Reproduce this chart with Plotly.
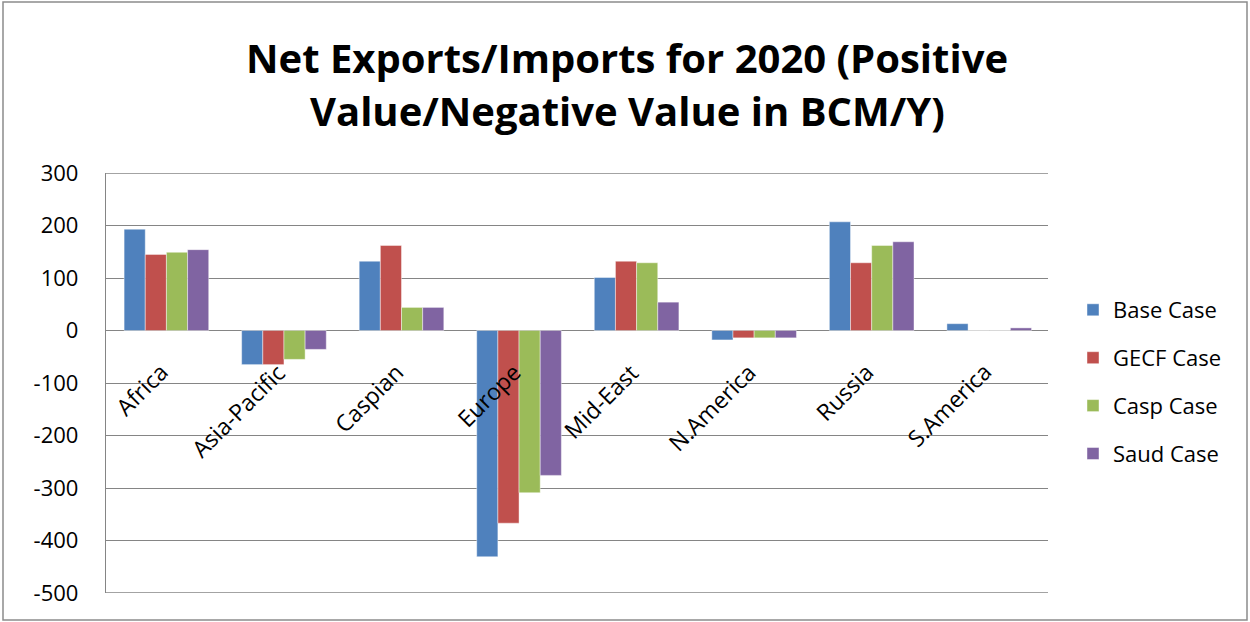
import plotly.graph_objects as go

categories = ["Africa", "Asia-Pacific", "Caspian", "Europe", "Mid-East", "N.America", "Russia", "S.America"]
series_names = ["Base Case", "GECF Case", "Casp Case", "Saud Case"]
base_case = [193, -65, 132, -431, 101, -18, 207, 13]
gecf_case = [145, -65, 162, -367, 132, -14, 129, 0]
casp_case = [149, -55, 44, -309, 129, -14, 162, 0]
saud_case = [154, -36, 44, -276, 54, -14, 169, 5]
colors = ["#4F81BD", "#C0504D", "#9BBB59", "#8064A2"]
y_ticks = [300, 200, 100, 0, -100, -200, -300, -400, -500]
title_lines = ["Net Exports/Imports for 2020 (Positive", "Value/Negative Value in BCM/Y)"]

W, H = 1250, 622
L, R, T, B = 106, 1250 - 1048, 173, 622 - 593
PW, PH = W - L - R, H - T - B
GRID = "#858585"

def px_x(p):
    return (p - L) / PW

def px_y(p):
    return (H - B - p) / PH

fig = go.Figure()
for name, vals, col in zip(series_names, [base_case, gecf_case, casp_case, saud_case], colors):
    fig.add_trace(go.Bar(
        x=categories, y=vals, name=name, legendgroup=name,
        marker=dict(color=col, line=dict(color="rgba(255,255,255,0.55)", width=0.8)),
    ))

annotations = []
for cat in categories:
    annotations.append(dict(
        x=cat, y=0, xref="x", yref="y", text=cat, showarrow=False,
        textangle=-45, xanchor="right", yanchor="top", xshift=11, yshift=-23,
        font=dict(family="Open Sans", size=23, color="#000000"),
    ))
for line, yc in zip(title_lines, [57, 110]):
    annotations.append(dict(
        x=px_x(627), y=px_y(yc), xref="paper", yref="paper", text=line,
        showarrow=False, xanchor="center", yanchor="middle",
        font=dict(family="Open Sans", size=40, color="#000000", weight="bold"),
    ))

shapes = [dict(
    type="rect", xref="paper", yref="paper",
    x0=px_x(3), x1=px_x(1247), y0=px_y(620), y1=px_y(2),
    line=dict(color="#8C8C8C", width=1.5), fillcolor="rgba(0,0,0,0)", layer="below",
)]
for v in (y_ticks[0], y_ticks[-1]):
    shapes.append(dict(type="line", xref="paper", yref="y", x0=0, x1=1, y0=v, y1=v,
                       line=dict(color=GRID, width=1.4), layer="below"))

fig.update_layout(
    width=W, height=H,
    margin=dict(l=L, r=R, t=T, b=B, pad=0),
    paper_bgcolor="white", plot_bgcolor="white",
    barmode="group", bargap=0.28, bargroupgap=0,
    showlegend=True,
    legend=dict(
        x=px_x(1073), y=px_y(289), xanchor="left", yanchor="top",
        font=dict(family="Open Sans", size=22, color="#000000"),
        traceorder="grouped", tracegroupgap=16.3, bgcolor="rgba(0,0,0,0)",
    ),
    annotations=annotations,
    shapes=shapes,
)
fig.update_xaxes(showticklabels=False, showgrid=False, showline=False, zeroline=False,
                 ticks="")
fig.update_yaxes(range=[-500, 300], tickvals=y_ticks, ticktext=[str(v) for v in y_ticks],
                 showgrid=True, gridcolor=GRID, gridwidth=1.4,
                 zeroline=True, zerolinecolor=GRID, zerolinewidth=1.4,
                 showline=True, linecolor=GRID, linewidth=1.4,
                 ticks="", ticklabelstandoff=22,
                 tickfont=dict(family="Open Sans", size=22, color="#000000"))

fig.write_html("out.html", config={"displayModeBar": False},
               post_script="document.body.style.margin='0';document.body.style.overflow='hidden';")
